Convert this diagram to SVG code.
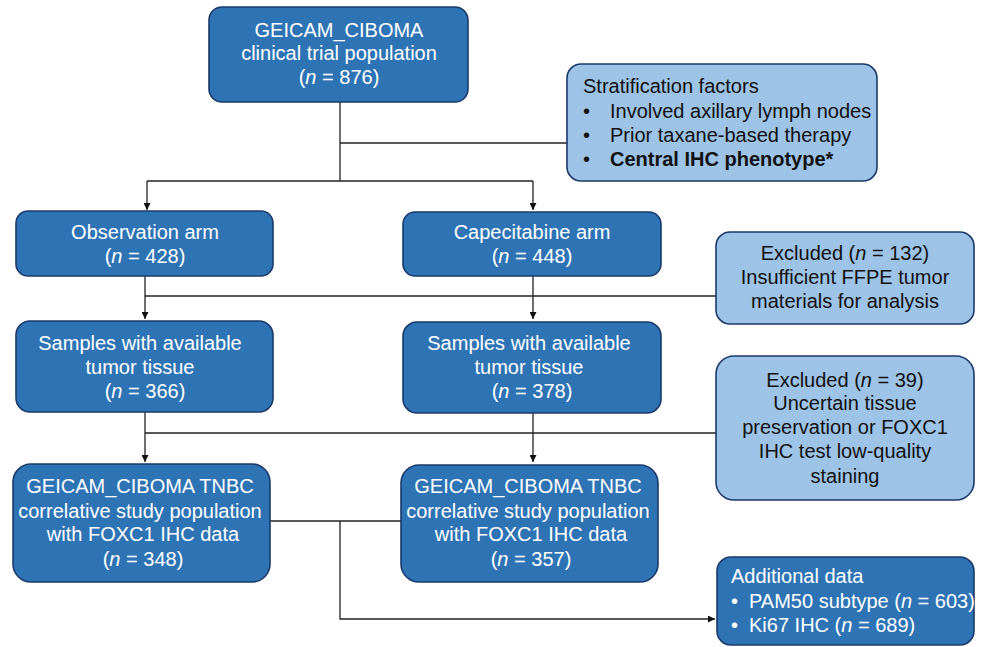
<svg xmlns="http://www.w3.org/2000/svg" width="981" height="647" viewBox="0 0 981 647">
<style>
.dk{fill:#2e74b5;stroke:#1b3a6b;stroke-width:1.6}
.lt{fill:#9dc3e6;stroke:#1b3a6b;stroke-width:1.6}
text{font-family:"Liberation Sans",Arial,sans-serif;font-size:20px}
.w{fill:#ffffff;text-anchor:middle}
.b{fill:#111111;text-anchor:middle}
.bl{fill:#111111}
.wl{fill:#ffffff}
.c{fill:none;stroke:#222222;stroke-width:1.3}
</style>
<defs>
<marker id="ah" viewBox="0 0 10 10" refX="10" refY="5" markerWidth="7" markerHeight="7" orient="auto" markerUnits="userSpaceOnUse">
<path d="M0,0 L10,5 L0,10 z" fill="#111"/>
</marker>
</defs>
<rect width="981" height="647" fill="#ffffff"/>
<g id="connectors">
<path class="c" d="M340,102 V181"/>
<path class="c" d="M340,143 H567"/>
<path class="c" d="M147,181 H533"/>
<path class="c" d="M147,181 V210" marker-end="url(#ah)"/>
<path class="c" d="M533,181 V210" marker-end="url(#ah)"/>
<path class="c" d="M145,276 V319" marker-end="url(#ah)"/>
<path class="c" d="M533,276 V319" marker-end="url(#ah)"/>
<path class="c" d="M145,296 H716"/>
<path class="c" d="M145,412 V462" marker-end="url(#ah)"/>
<path class="c" d="M533,413 V462" marker-end="url(#ah)"/>
<path class="c" d="M145,433 H716"/>
<path class="c" d="M270,521 H401"/>
<path class="c" d="M340,521 V619 H715" marker-end="url(#ah)"/>
</g>
<g id="n_top">
<rect class="dk" x="209" y="7" width="259" height="95" rx="13"/>
<text class="w" x="339" y="37">GEICAM_CIBOMA</text>
<text class="w" x="339" y="60">clinical trial population</text>
<text class="w" x="339" y="84">(<tspan font-style="italic">n</tspan> = 876)</text>
</g>
<g id="n_strat">
<rect class="lt" x="567" y="64" width="310" height="117" rx="14"/>
<text class="bl" x="583" y="93">Stratification factors</text>
<text class="bl" x="583" y="118">•</text>
<text class="bl" x="610" y="118">Involved axillary lymph nodes</text>
<text class="bl" x="583" y="142">•</text>
<text class="bl" x="610" y="142">Prior  taxane-based therapy</text>
<text class="bl" x="583" y="166">•</text>
<text class="bl" x="610" y="166" font-weight="bold">Central IHC phenotype*</text>
</g>
<g id="n_obs">
<rect class="dk" x="16" y="211" width="257" height="65" rx="12"/>
<text class="w" x="145" y="239">Observation arm</text>
<text class="w" x="145" y="263">(<tspan font-style="italic">n</tspan> = 428)</text>
</g>
<g id="n_cap">
<rect class="dk" x="403" y="212" width="258" height="64" rx="12"/>
<text class="w" x="532" y="239">Capecitabine arm</text>
<text class="w" x="532" y="263">(<tspan font-style="italic">n</tspan> = 448)</text>
</g>
<g id="n_exc132">
<rect class="lt" x="716" y="232" width="258" height="92" rx="14"/>
<text class="b" x="845" y="260">Excluded (<tspan font-style="italic">n</tspan> = 132)</text>
<text class="b" x="845" y="284">Insufficient FFPE tumor</text>
<text class="b" x="845" y="308">materials for analysis</text>
</g>
<g id="n_samp1">
<rect class="dk" x="16" y="321" width="257" height="91" rx="14"/>
<text class="w" x="140" y="350">Samples with available</text>
<text class="w" x="140" y="374">tumor tissue</text>
<text class="w" x="145" y="398">(<tspan font-style="italic">n</tspan> = 366)</text>
</g>
<g id="n_samp2">
<rect class="dk" x="403" y="322" width="258" height="91" rx="14"/>
<text class="w" x="529" y="350">Samples with available</text>
<text class="w" x="529" y="374">tumor tissue</text>
<text class="w" x="532" y="398">(<tspan font-style="italic">n</tspan> = 378)</text>
</g>
<g id="n_exc39">
<rect class="lt" x="716" y="356" width="258" height="144" rx="18"/>
<text class="b" x="845" y="387">Excluded (<tspan font-style="italic">n</tspan> = 39)</text>
<text class="b" x="845" y="410">Uncertain tissue</text>
<text class="b" x="845" y="434">preservation or FOXC1</text>
<text class="b" x="845" y="458">IHC test low-quality</text>
<text class="b" x="845" y="483">staining</text>
</g>
<g id="n_tnbc1">
<rect class="dk" x="13" y="464" width="257" height="118" rx="18"/>
<text class="w" x="140" y="493">GEICAM_CIBOMA TNBC</text>
<text class="w" x="140" y="518">correlative study population</text>
<text class="w" x="143" y="541">with FOXC1 IHC data</text>
<text class="w" x="143" y="566">(<tspan font-style="italic">n</tspan> = 348)</text>
</g>
<g id="n_tnbc2">
<rect class="dk" x="401" y="465" width="257" height="117" rx="18"/>
<text class="w" x="528" y="493">GEICAM_CIBOMA TNBC</text>
<text class="w" x="528" y="518">correlative study population</text>
<text class="w" x="531" y="541">with FOXC1 IHC data</text>
<text class="w" x="531" y="566">(<tspan font-style="italic">n</tspan> = 357)</text>
</g>
<g id="n_add">
<rect class="dk" x="717" y="557" width="257" height="88" rx="14"/>
<text class="wl" x="731" y="583">Additional data</text>
<text class="wl" x="731" y="608">•</text>
<text class="wl" x="749" y="608">PAM50 subtype (<tspan font-style="italic">n</tspan> = 603)</text>
<text class="wl" x="731" y="632">•</text>
<text class="wl" x="749" y="632">Ki67 IHC (<tspan font-style="italic">n</tspan> = 689)</text>
</g>
</svg>
